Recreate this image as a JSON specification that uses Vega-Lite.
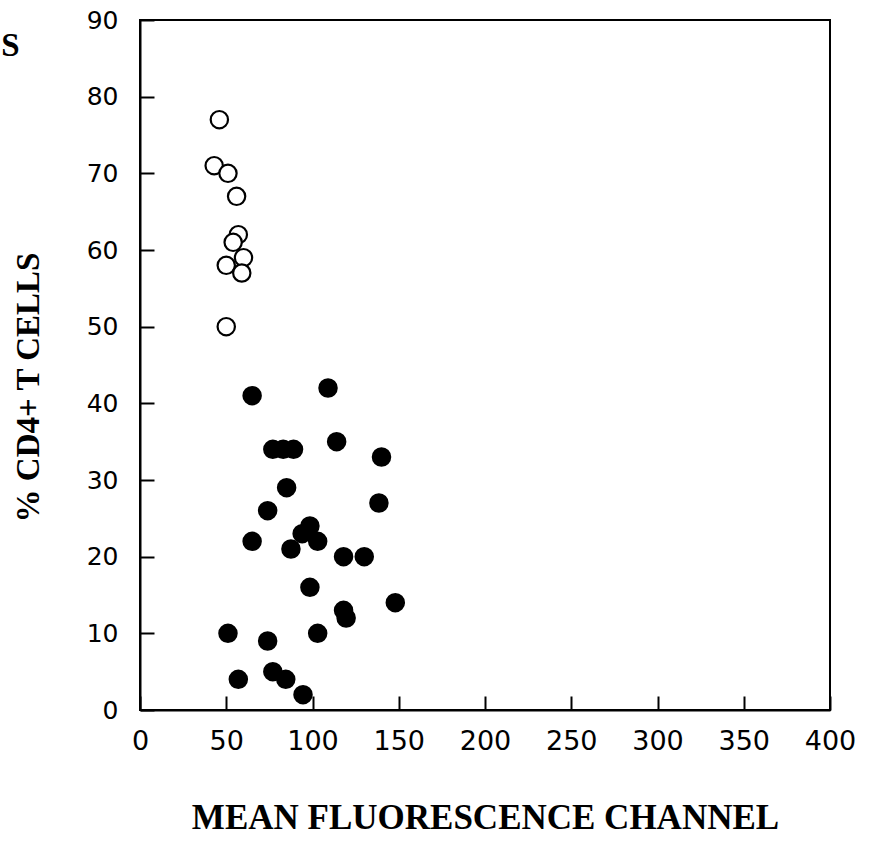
{
  "$schema": "https://vega.github.io/schema/vega-lite/v6.json",
  "autosize": "none",
  "width": 690,
  "height": 690,
  "padding": {"left": 140, "top": 20, "right": 43, "bottom": 134},
  "background": "white",
  "config": {
    "view": {"stroke": "black", "strokeWidth": 2},
    "axis": {"grid": false, "domainColor": "black", "domainWidth": 2, "tickColor": "black", "tickWidth": 2, "labelFont": "DejaVu Sans", "labelColor": "black", "titleFont": "Liberation Serif", "titleFontWeight": "bold", "titleColor": "black"}
  },
  "data": {"values": [
    {"mfc": 46, "cd4": 77, "group": "open"},
    {"mfc": 43, "cd4": 71, "group": "open"},
    {"mfc": 51, "cd4": 70, "group": "open"},
    {"mfc": 56, "cd4": 67, "group": "open"},
    {"mfc": 57, "cd4": 62, "group": "open"},
    {"mfc": 54, "cd4": 61, "group": "open"},
    {"mfc": 60, "cd4": 59, "group": "open"},
    {"mfc": 50, "cd4": 58, "group": "open"},
    {"mfc": 59, "cd4": 57, "group": "open"},
    {"mfc": 50, "cd4": 50, "group": "open"},
    {"mfc": 65, "cd4": 41, "group": "filled"},
    {"mfc": 109, "cd4": 42, "group": "filled"},
    {"mfc": 77, "cd4": 34, "group": "filled"},
    {"mfc": 83, "cd4": 34, "group": "filled"},
    {"mfc": 89, "cd4": 34, "group": "filled"},
    {"mfc": 114, "cd4": 35, "group": "filled"},
    {"mfc": 140, "cd4": 33, "group": "filled"},
    {"mfc": 85, "cd4": 29, "group": "filled"},
    {"mfc": 74, "cd4": 26, "group": "filled"},
    {"mfc": 138.5, "cd4": 27, "group": "filled"},
    {"mfc": 98.5, "cd4": 24, "group": "filled"},
    {"mfc": 94, "cd4": 23, "group": "filled"},
    {"mfc": 103, "cd4": 22, "group": "filled"},
    {"mfc": 65, "cd4": 22, "group": "filled"},
    {"mfc": 87.5, "cd4": 21, "group": "filled"},
    {"mfc": 118, "cd4": 20, "group": "filled"},
    {"mfc": 130, "cd4": 20, "group": "filled"},
    {"mfc": 98.5, "cd4": 16, "group": "filled"},
    {"mfc": 148, "cd4": 14, "group": "filled"},
    {"mfc": 118, "cd4": 13, "group": "filled"},
    {"mfc": 119.5, "cd4": 12, "group": "filled"},
    {"mfc": 51, "cd4": 10, "group": "filled"},
    {"mfc": 103, "cd4": 10, "group": "filled"},
    {"mfc": 74, "cd4": 9, "group": "filled"},
    {"mfc": 77, "cd4": 5, "group": "filled"},
    {"mfc": 84.5, "cd4": 4, "group": "filled"},
    {"mfc": 57, "cd4": 4, "group": "filled"},
    {"mfc": 94.5, "cd4": 2, "group": "filled"}
  ]},
  "layer": [
    {
      "mark": {"type": "point", "shape": "circle", "size": 300, "strokeWidth": 2.2, "stroke": "black", "opacity": 1},
      "encoding": {
        "x": {"field": "mfc", "type": "quantitative", "scale": {"domain": [0, 400], "nice": false, "zero": false},
          "axis": {"orient": "bottom", "values": [0, 50, 100, 150, 200, 250, 300, 350, 400], "labelFlush": false, "labelFontSize": 27, "tickSize": -14, "labelPadding": 32,
            "encode": {"ticks": {"update": {"y2": {"value": -14}}}},
            "title": "MEAN FLUORESCENCE CHANNEL", "titleFontSize": 35, "titlePadding": 46}},
        "y": {"field": "cd4", "type": "quantitative", "scale": {"domain": [0, 90], "nice": false, "zero": false},
          "axis": {"values": [0, 10, 20, 30, 40, 50, 60, 70, 80, 90], "labelFlush": false, "labelFontSize": 25, "tickSize": -14, "labelPadding": 36,
            "encode": {"ticks": {"update": {"x2": {"value": 14}}}},
            "title": "% CD4+ T CELLS", "titleFontSize": 33, "titleX": -112, "titleY": 367, "titleAngle": -90, "titleBaseline": "middle", "titleAlign": "center"}},
        "fill": {"field": "group", "type": "nominal", "scale": {"domain": ["open", "filled"], "range": ["white", "black"]}, "legend": null}
      }
    },
    {
      "mark": {"type": "point", "opacity": 0},
      "encoding": {
        "x": {"field": "mfc", "type": "quantitative", "scale": {"domain": [0, 400], "nice": false, "zero": false},
          "axis": {"orient": "top", "domain": false, "ticks": false, "labels": false, "grid": false,
            "title": "S", "titleFontSize": 33, "titleX": -130, "titleY": 35, "titleAngle": 0, "titleAlign": "center", "titleBaseline": "alphabetic"}},
        "y": {"field": "cd4", "type": "quantitative"}
      }
    }
  ],
  "resolve": {"axis": {"x": "independent"}}
}
